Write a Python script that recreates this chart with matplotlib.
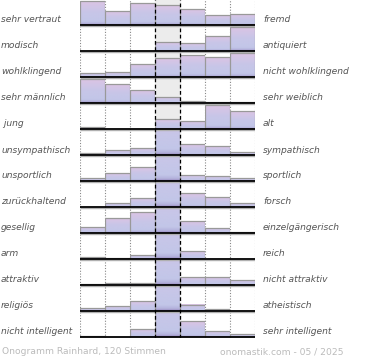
import matplotlib.pyplot as plt
import numpy as np
from matplotlib.colors import LinearSegmentedColormap
from matplotlib.patches import Rectangle

# Onogramm: 13 Gegensatzpaare, je 7 Stufen (Werte aus dem Bild geschätzt, 25 = volle Zeilenhöhe)
links = ["sehr vertraut", "modisch", "wohlklingend", "sehr männlich", " jung",
         "unsympathisch", "unsportlich", "zurückhaltend", "gesellig", "arm",
         "attraktiv", "religiös", "nicht intelligent"]
rechts = ["fremd", "antiquiert", "nicht wohlklingend", "sehr weiblich", "alt",
          "sympathisch", "sportlich", "forsch", "einzelgängerisch", "reich",
          "nicht attraktiv", "atheistisch", "sehr intelligent"]
werte = [
    [24, 14, 22, 20, 16, 10, 11],
    [0, 0, 0, 9, 8, 15, 24],
    [4, 5, 13, 19, 22, 20, 24],
    [24, 19, 13, 6, 2, 1, 1],
    [2, 0, 0, 10, 8, 24, 18],
    [2, 5, 7, 40, 11, 9, 3],
    [3, 8, 14, 40, 6, 5, 3],
    [0, 4, 9, 40, 14, 10, 4],
    [6, 15, 21, 40, 12, 5, 1],
    [2, 1, 4, 40, 8, 0, 0],
    [1, 2, 2, 40, 8, 8, 5],
    [3, 5, 10, 40, 6, 2, 0],
    [1, 0, 8, 40, 16, 6, 3],
]
fusszeile_links = "Onogramm Rainhard, 120 Stimmen"
fusszeile_rechts = "onomastik.com - 05 / 2025"

W, H = 370, 360
n = len(links)
fig = plt.figure(figsize=(W / 100, H / 100), dpi=100)
ax = fig.add_axes([80 / W, 1 - 26 * n / H, 175 / W, 26 * n / H])
ax.set_xlim(0, 7)
ax.set_ylim(0, n)
ax.axis("off")

cmap = LinearSegmentedColormap.from_list(
    "ono", [(0, "#9686bc"), (0.06, "#b4b2dc"), (0.15, "#c2c6e8"),
            (0.55, "#c8c6e8"), (1, "#dcc4e4")])
grad = np.linspace(0, 1, 128).reshape(-1, 1)

skala = 1 / 26  # 1 Wert = 1 Pixel

ax.axvspan(3, 4, color="#ececec", zorder=0)
for xv in [0, 1, 2, 5, 6, 7]:
    ax.axvline(xv, color="#888888", lw=0.8, ls=(0, (1, 1.5)), zorder=1)

for i, row in enumerate(werte):
    basis = n - 1 - i + 1 / 26
    oben = n - i
    for j, v in enumerate(row):
        if v <= 0:
            continue
        h = v * skala
        clip = Rectangle((j, basis), 1, oben - basis, transform=ax.transData)
        im = ax.imshow(grad, cmap=cmap, origin="lower", aspect="auto",
                       extent=(j, j + 1, basis, basis + h), zorder=2,
                       interpolation="bilinear")
        im.set_clip_path(clip)
        bar = ax.bar(j + 0.5, h, width=1, bottom=basis, fill=False,
                     edgecolor="#999999", lw=0.9, zorder=3)
        bar[0].set_clip_path(clip)
    ax.hlines(basis - 1.4 / 26, 0, 7, color="#b0b0b0", lw=1.0, zorder=4)
    ax.hlines(basis, 0, 7, color="black", lw=1.3, zorder=5)

    y_txt = 1 - (20 + 26 * i) / H
    fig.text(1 / W, y_txt, links[i], ha="left", va="center", fontsize=6.6,
             style="italic", color="#555555")
    fig.text(263 / W, y_txt, rechts[i], ha="left", va="center", fontsize=6.6,
             style="italic", color="#555555")

for xv in [3, 4]:
    ax.axvline(xv, color="black", lw=0.9, ls=(0, (3, 2)), zorder=6)

fig.text(2 / W, 1 - 352 / H, fusszeile_links, ha="left", va="center",
         fontsize=6.6, color="#bbbbbb")
fig.text(220 / W, 1 - 352 / H, fusszeile_rechts, ha="left", va="center",
         fontsize=6.6, color="#bbbbbb")

fig.savefig("out.png", dpi=100)
